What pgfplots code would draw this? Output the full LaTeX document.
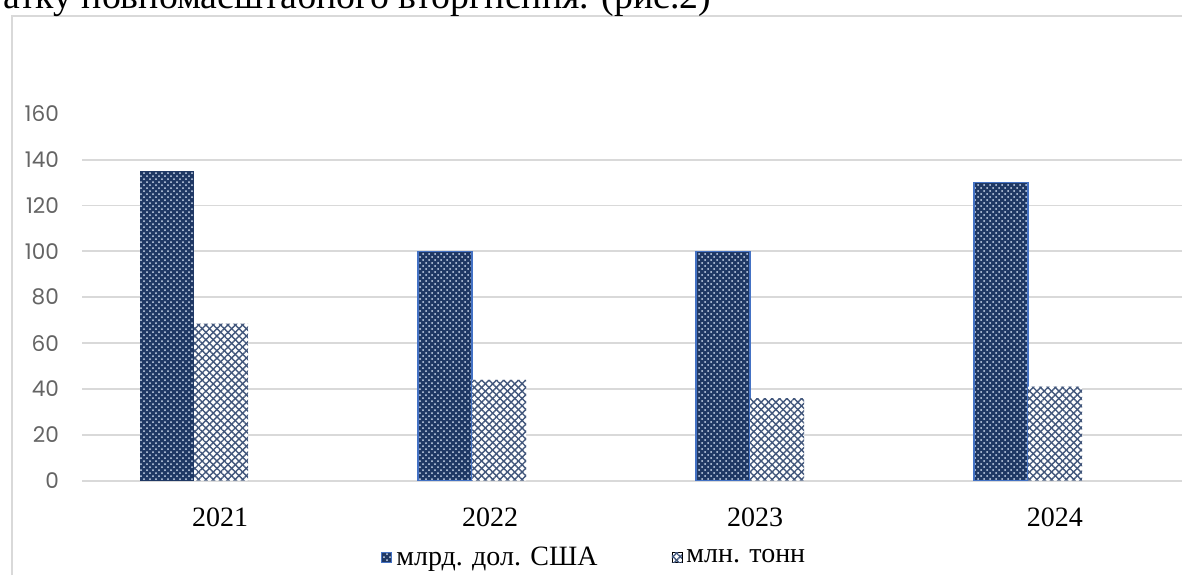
\documentclass[border=0pt]{standalone}
\usepackage{pgfplots}
\pgfplotsset{compat=1.18}
\usetikzlibrary{patterns,patterns.meta}
\usepackage{fontspec}
\setmainfont{Liberation Serif}
\newfontfamily\tickfont{Poppins}
\definecolor{navy}{RGB}{31,56,100}
\definecolor{edgeblue}{RGB}{68,114,196}
\definecolor{gridgray}{RGB}{217,217,217}
\definecolor{ticktext}{RGB}{100,100,100}
\begin{document}
\begin{tikzpicture}[x=1pt,y=1pt]
\useasboundingbox (0,0) rectangle (591,287.5);
\clip (0,0) rectangle (591,287.5);
% frame of the chart area
\draw[gridgray, line width=1pt] (6,0) -- (6,279.5) -- (591,279.5);
% cut-off line of running text above the chart
\node[anchor=base west, inner sep=0pt, font=\fontsize{18.9}{21}\selectfont] at (1.5,283.3)
  {атку повномасштабного вторгнення. (рис.2)};
\begin{axis}[
    at={(41pt,47.15pt)},
    anchor=south west,
    scale only axis,
    width=550pt,
    height=183.45pt,
    ybar,
    bar width=27pt,
    xmin=-0.403, xmax=3.554,
    ymin=0, ymax=160,
    xtick={0.094,1.065,2.018,3.097},
    xticklabels={2021,2022,2023,2024},
    ytick={0,20,...,140},
    extra y ticks={160},
    extra y tick style={grid=none},
    ymajorgrids=true,
    grid style={gridgray, line width=0.9pt},
    axis line style={draw=none},
    major tick length=0pt,
    /pgf/number format/assume math mode=true,
    yticklabel style={font=\tickfont\fontsize{10.8}{12}\selectfont, text=ticktext, xshift=-8pt},
    xticklabel style={font=\fontsize{14}{16}\selectfont, yshift=-10pt},
    legend style={at={(0.4665,-0.209)}, anchor=center, draw=none, fill=none,
        legend columns=2, font=\fontsize{14}{16}\selectfont,
        /tikz/every even column/.append style={column sep=35pt},
        nodes={inner xsep=2pt},
        inner sep=0pt},
    legend image code/.code={\draw[#1] (0pt,-2.6pt) rectangle (5pt,2.6pt);},
    ]
    \addplot[bar shift=-13.5pt, fill=navy, draw=edgeblue, line width=0.6pt,
        postaction={pattern=crosshatch dots, pattern color=white!75!edgeblue}]
    coordinates {(1,100) (2,100) (3,130)};
    \addlegendentry{млрд. дол. США}
    \addplot[bar shift=-13.5pt, fill=navy, draw=none, forget plot,
        postaction={pattern=crosshatch dots, pattern color=white!75!edgeblue}]
    coordinates {(0,135)};
    \addplot[bar shift=13.5pt, fill=white, draw=none,
        postaction={pattern={Lines[angle=45,distance=2.6pt,line width=0.7pt]}, pattern color=navy!85},
        postaction={pattern={Lines[angle=-45,distance=2.6pt,line width=0.7pt]}, pattern color=navy!85}]
    coordinates {(0,68.5) (1,44) (2,36) (3,41)};
    \addlegendentry{млн. тонн}
\end{axis}
\end{tikzpicture}
\end{document}
